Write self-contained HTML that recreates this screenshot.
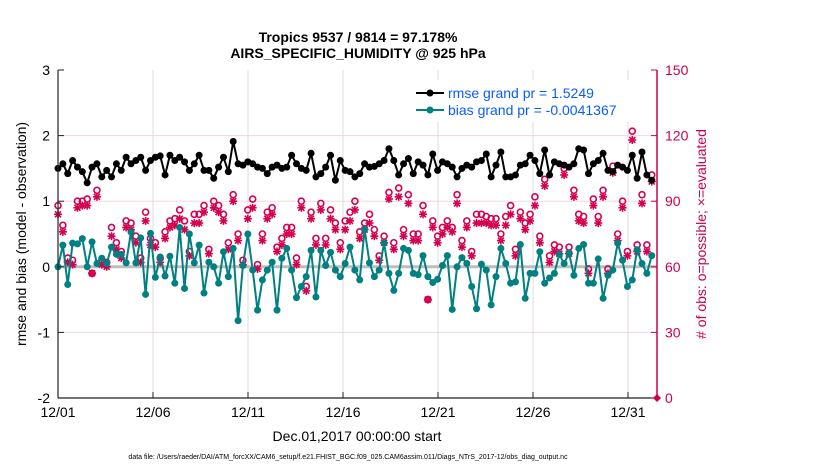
<!DOCTYPE html>
<html><head><meta charset="utf-8"><style>
body{margin:0;background:#fff;}
svg{font-family:"Liberation Sans",sans-serif;display:block}
</style></head><body>
<svg id="chart" width="830" height="470" viewBox="0 0 830 470">
<text x="358" y="42" text-anchor="middle" font-size="14" font-weight="bold">Tropics 9537 / 9814 = 97.178%</text>
<text x="358" y="58" text-anchor="middle" font-size="14" font-weight="bold">AIRS_SPECIFIC_HUMIDITY @ 925 hPa</text>
<g id="grid"></g>
<g id="marks"></g>
<g id="axes"></g>
<text transform="translate(26,234) rotate(-90)" text-anchor="middle" font-size="14">rmse and bias (model - observation)</text>
<text transform="translate(706,234) rotate(-90)" text-anchor="middle" font-size="14" fill="#cc0050"># of obs: o=possible; ×=evaluated</text>
<text x="357" y="441" text-anchor="middle" font-size="14">Dec.01,2017 00:00:00 start</text>
<text x="348" y="459" text-anchor="middle" font-size="7">data file: /Users/raeder/DAI/ATM_forcXX/CAM6_setup/f.e21.FHIST_BGC.f09_025.CAM6assim.011/Diags_NTrS_2017-12/obs_diag_output.nc</text>
<g>
<rect x="412" y="80" width="236" height="42" fill="#fff"/>
<line x1="416" y1="93" x2="444" y2="93" stroke="#000" stroke-width="2"/>
<circle cx="430" cy="93" r="3.5" fill="#000"/>
<text x="448" y="98" font-size="14" fill="#0a5cff">rmse grand pr = 1.5249</text>
<line x1="416" y1="110" x2="444" y2="110" stroke="#008080" stroke-width="2"/>
<circle cx="430" cy="110" r="3.5" fill="#008080"/>
<text x="448" y="115" font-size="14" fill="#0a5cff">bias grand pr = -0.0041367</text>
</g>
</svg>
<script>
const rmse=[1.50,1.57,1.42,1.62,1.52,1.45,1.28,1.52,1.57,1.37,1.47,1.37,1.57,1.47,1.67,1.57,1.62,1.67,1.47,1.62,1.67,1.69,1.40,1.70,1.62,1.67,1.60,1.47,1.57,1.70,1.47,
1.47,1.35,1.52,1.67,1.45,1.91,1.57,1.55,1.60,1.57,1.52,1.50,1.42,1.52,1.55,1.50,1.52,1.70,1.57,1.50,1.47,1.73,1.37,1.42,1.52,1.70,1.32,1.62,1.47,1.45,1.37,
1.42,1.57,1.52,1.53,1.57,1.62,1.80,1.62,1.40,1.57,1.65,1.42,1.60,1.55,1.40,1.72,1.47,1.60,1.57,1.52,1.37,1.50,1.55,1.52,1.60,1.62,1.72,1.37,1.55,1.75,1.37,
1.37,1.40,1.55,1.57,1.70,1.62,1.42,1.78,1.40,1.60,1.57,1.55,1.52,1.57,1.80,1.78,1.42,1.57,1.62,1.73,1.47,1.45,1.55,1.52,1.47,1.70,1.35,1.75,1.40,1.32];
const bias=[0,0.33,-0.27,0.36,0.35,0.43,0,0.38,0.05,0.13,0.05,0.3,0.19,0.19,0.06,0.53,0.06,0.44,-0.42,0.51,-0.16,0.15,-0.14,0.16,-0.25,0.6,-0.33,0.5,0.06,0.33,-0.4,
0.07,0,-0.25,0.23,-0.15,0.28,-0.82,0.02,0.5,-0.05,-0.66,-0.2,-0.05,0.07,-0.66,0.13,0.28,-0.05,-0.47,-0.3,-0.15,0.25,-0.46,0.25,0.02,0.22,-0.05,-0.15,0.05,0.3,-0.05,
-0.2,0.57,0.06,-0.15,-0.05,0.36,-0.1,-0.36,-0.1,0.28,0.25,-0.1,-0.12,0.17,-0.15,-0.24,-0.19,0.02,0.17,-0.65,0,0.14,0.05,-0.3,-0.64,0.04,-0.05,-0.58,-0.15,0.28,0.05,
-0.25,-0.23,0.34,-0.48,-0.1,-0.1,0.23,-0.25,-0.17,-0.1,0.19,0.05,0.21,-0.13,0.28,0.34,-0.25,-0.25,0.12,-0.48,-0.13,-0.05,0.36,0.1,-0.3,-0.2,0.26,0.05,-0.1,0.17];
const possible=[88,79,64,63,90,90,91,57,95,63,62,78,71,67,81,80,74,64,85,73,71,64,76,81,82,86,81,67,84,84,88,68,
90,88,84,71,93,75,63,86,91,61,75,85,87,69,73,78,78,64,90,51,85,73,89,73,86,80,71,81,85,90,76,
80,84,77,65,74,94,71,96,77,93,75,75,88,45,81,74,78,81,78,93,72,81,67,84,84,83,82,82,75,83,88,
68,85,80,84,92,74,100,65,70,69,105,69,95,84,83,59,91,83,95,59,106,75,90,67,122,70,93,70,102,80].slice(0,123);
const evaluated=[84,76,62,61,87,88,88,57,92,61,60,74,68,64,78,77,71,62,81,70,69,62,73,78,79,82,77,65,80,80,85,66,
87,85,81,68,90,72,61,82,87,59,72,82,84,67,70,75,75,61,87,49,82,70,86,70,82,77,68,77,81,86,73,
77,80,74,63,71,91,68,92,74,89,72,72,84,45,78,71,75,78,76,89,69,78,65,80,80,80,79,79,72,79,84,
65,82,77,81,88,71,97,62,67,66,102,66,92,81,80,57,88,80,92,57,103,72,87,65,118,67,89,67,99,77].slice(0,123);
const xTickLabels=["12/01","12/06","12/11","12/16","12/21","12/26","12/31"];
const xTickDays=[0,5,10,15,20,25,30];
const yLeftTicks=[3,2,1,0,-1,-2];
const yRightTicks=[150,120,90,60,30,0];
const dayStep=31.25/122;

const X0=58,X1=657,Y0=398,Y1=70;
const xs=d=>X0+d*19;
const yl=v=>266.8-v*65.6;
const yr=v=>Y0-v*(Y0-Y1)/150;
const NS="http://www.w3.org/2000/svg";
function mk(parent,tag,attrs){const e=document.createElementNS(NS,tag);for(const k in attrs)e.setAttribute(k,attrs[k]);parent.appendChild(e);return e;}
const grid=document.getElementById('grid'),marks=document.getElementById('marks'),axes=document.getElementById('axes');

yRightTicks.forEach(v=>{if(v>0&&v<150){const l=mk(grid,'line',{x1:X0,x2:X1,y1:yr(v),y2:yr(v),stroke:'#f0d8e2','stroke-width':1});

}});
xTickDays.forEach(d=>{if(d>0){const l=mk(grid,'line',{x1:xs(d),x2:xs(d),y1:Y1,y2:Y0,stroke:'#dcdcdc','stroke-width':1});

}});
const zl=mk(grid,'line',{x1:X0,x2:X1,y1:yl(0),y2:yl(0),stroke:'#bdbdbd','stroke-width':3});



// obs counts
possible.forEach((v,i)=>{const c=mk(marks,'circle',{cx:xs(i*dayStep),cy:yr(v),r:3,fill:'none',stroke:'#d4004f','stroke-width':1.6});

});
evaluated.forEach((v,i)=>{const cx=xs(i*dayStep),cy=yr(v);const g=mk(marks,'g',{stroke:'#d4004f','stroke-width':1.6});


mk(g,'line',{x1:cx-4,x2:cx+4,y1:cy,y2:cy});mk(g,'line',{x1:cx,x2:cx,y1:cy-4,y2:cy+4});
mk(g,'line',{x1:cx-3,x2:cx+3,y1:cy-3,y2:cy+3});mk(g,'line',{x1:cx-3,x2:cx+3,y1:cy+3,y2:cy-3});});

function series(arr,color,name){
 const p=arr.map((v,i)=>xs(i*dayStep).toFixed(1)+','+yl(v).toFixed(1)).join(' ');
 const pl=mk(marks,'polyline',{points:p,fill:'none',stroke:color,'stroke-width':2});
 
 
 arr.forEach((v,i)=>{const c=mk(marks,'circle',{cx:xs(i*dayStep),cy:yl(v),r:3.5,fill:color});
 
 });
}
series(rmse,'#000','rmse');
series(bias,'#008080','bias');

// axes
mk(axes,'line',{x1:X0,x2:X0,y1:Y1,y2:Y0,stroke:'#222','stroke-width':1.2});
mk(axes,'line',{x1:X0,x2:X1,y1:Y0,y2:Y0,stroke:'#222','stroke-width':1.2});
mk(axes,'line',{x1:X1,x2:X1,y1:Y1,y2:Y0,stroke:'#cc0050','stroke-width':1.5});
yLeftTicks.forEach(v=>{mk(axes,'line',{x1:X0,x2:X0+6,y1:yl(v),y2:yl(v),stroke:'#222'});
 const t=mk(axes,'text',{x:X0-8,y:yl(v)+5,'text-anchor':'end','font-size':14});t.textContent=v;
 
 });
yRightTicks.forEach(v=>{mk(axes,'line',{x1:X1-6,x2:X1,y1:yr(v),y2:yr(v),stroke:'#cc0050'});
 const t=mk(axes,'text',{x:X1+8,y:yr(v)+5,'font-size':14,fill:'#cc0050'});t.textContent=v;
 
 });
xTickDays.forEach((d,i)=>{mk(axes,'line',{x1:xs(d),x2:xs(d),y1:Y0-6,y2:Y0,stroke:'#222'});
 const t=mk(axes,'text',{x:xs(d),y:Y0+19,'text-anchor':'middle','font-size':14});t.textContent=xTickLabels[i];
 
 });
const dm=mk(axes,'path',{d:`M${X1-4},${Y0} L${X1},${Y0-4} L${X1+4},${Y0} L${X1},${Y0+4}Z`,fill:'#d4004f'});


</script>
</body></html>
